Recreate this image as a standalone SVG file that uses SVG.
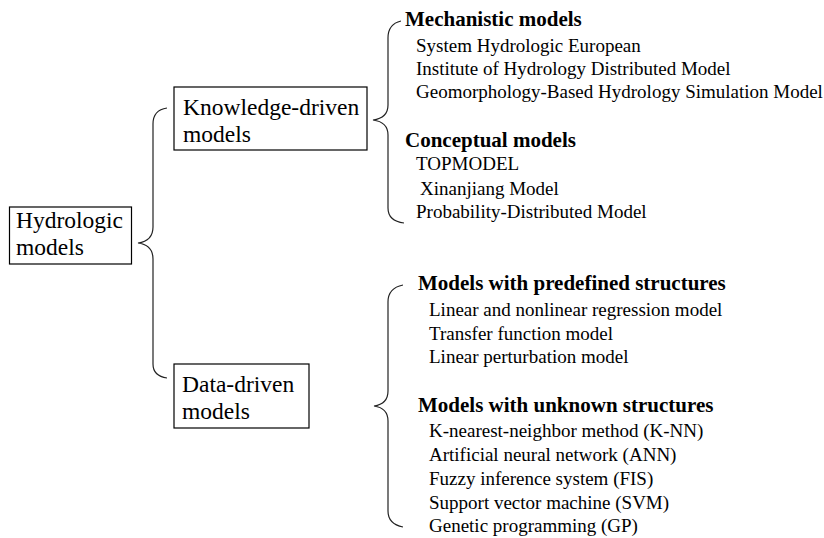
<svg xmlns="http://www.w3.org/2000/svg" width="824" height="538" viewBox="0 0 824 538">
<style>
.box{fill:#fff;stroke:#000;stroke-width:1.2}
.brace{fill:none;stroke:#222;stroke-width:1.2}
.bt{font-family:"Liberation Serif","Times New Roman",serif;font-size:23.5px;fill:#000}
.h{font-family:"Liberation Serif","Times New Roman",serif;font-size:21px;font-weight:bold;fill:#000}
.i{font-family:"Liberation Serif","Times New Roman",serif;font-size:19px;fill:#000}
</style>
<rect width="824" height="538" fill="#fff"/>
<g id="connectors">
<path class="brace" d="M167,108 Q153,110 153,124 L153,227 Q153,241 138,243 Q153,245 153,259 L153,364 Q153,376 167,378"/>
<path class="brace" d="M401,21 Q388,24 388,38 L388,105 Q388,118 373,120 Q388,122 388,135 L388,208 Q388,221 404,223"/>
<path class="brace" d="M403,285 Q388,288 388,302 L388,391 Q388,404 374,406 Q388,408 388,421 L388,511 Q388,524 403,527"/>
</g>
<g id="hydrologic">
<rect class="box" x="9.5" y="207" width="122" height="57"/>
<text class="bt" x="16" y="228">Hydrologic</text>
<text class="bt" x="16" y="255">models</text>
</g>
<g id="knowledge">
<rect class="box" x="174" y="87" width="193" height="63"/>
<text class="bt" x="183" y="115">Knowledge-driven</text>
<text class="bt" x="183" y="142">models</text>
</g>
<g id="data">
<rect class="box" x="174" y="364" width="135" height="64"/>
<text class="bt" x="182" y="392">Data-driven</text>
<text class="bt" x="182" y="419">models</text>
</g>
<g id="mechanistic">
<text class="h" x="405" y="26">Mechanistic models</text>
<text class="i" x="416" y="52">System Hydrologic European</text>
<text class="i" x="416" y="75">Institute of Hydrology Distributed Model</text>
<text class="i" x="416" y="98">Geomorphology-Based Hydrology Simulation Model</text>
</g>
<g id="conceptual">
<text class="h" x="405" y="147">Conceptual models</text>
<text class="i" x="416" y="170">TOPMODEL</text>
<text class="i" x="420" y="195">Xinanjiang Model</text>
<text class="i" x="416" y="218">Probability-Distributed Model</text>
</g>
<g id="predefined">
<text class="h" x="418" y="290">Models with predefined structures</text>
<text class="i" x="429" y="316">Linear and nonlinear regression model</text>
<text class="i" x="429" y="340">Transfer function model</text>
<text class="i" x="429" y="363">Linear perturbation model</text>
</g>
<g id="unknown">
<text class="h" x="418" y="412">Models with unknown structures</text>
<text class="i" x="429" y="437">K-nearest-neighbor method (K-NN)</text>
<text class="i" x="429" y="461">Artificial neural network (ANN)</text>
<text class="i" x="429" y="485">Fuzzy inference system (FIS)</text>
<text class="i" x="429" y="509">Support vector machine (SVM)</text>
<text class="i" x="429" y="532">Genetic programming (GP)</text>
</g>
</svg>
